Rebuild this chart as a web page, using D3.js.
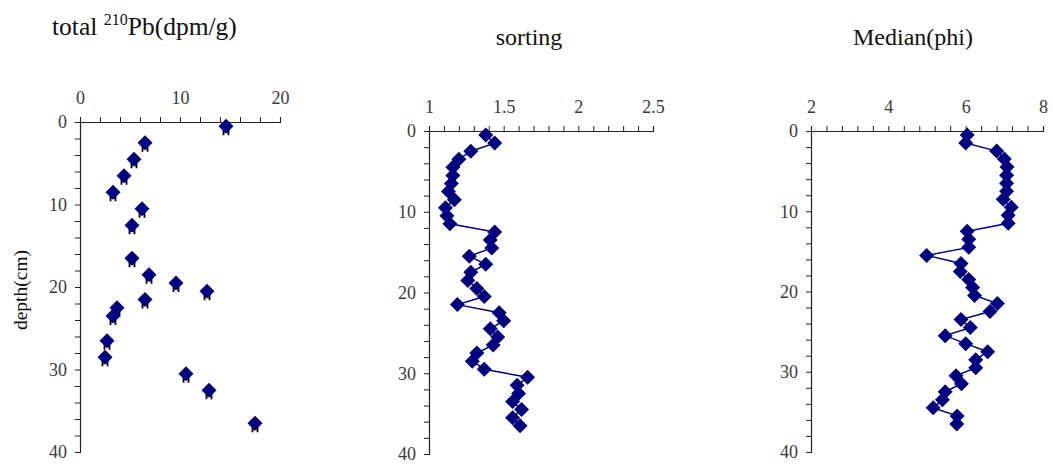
<!DOCTYPE html>
<html>
<head>
<meta charset="utf-8">
<script src="https://cdn.jsdelivr.net/npm/d3@7"></script>
<style>
  body { margin: 0; background: #fff; }
  svg text { font-family: "Liberation Serif", "Times New Roman", serif; }
</style>
</head>
<body>
<div id="chart"></div>
<script>
var width = 1053, height = 466,
    navy = "#000080",
    serif = "\"Liberation Serif\", \"Times New Roman\", serif";

// depths (cm) of each sample
var pbDepth = [0.5, 2.5, 4.5, 6.5, 8.5, 10.5, 12.5, 16.5, 18.5, 19.5, 20.5, 21.5, 22.5, 23.5, 26.5, 28.5, 30.5, 32.5, 36.5];
var pbValue = [14.6, 6.5, 5.4, 4.4, 3.3, 6.2, 5.2, 5.2, 6.9, 9.6, 12.7, 6.5, 3.7, 3.3, 2.7, 2.5, 10.6, 12.9, 17.5];

var grainDepth = [0.5, 1.5, 2.5, 3.5, 4.5, 5.5, 6.5, 7.5, 8.5, 9.5, 10.5, 11.5, 12.5, 13.5, 14.5, 15.5, 16.5, 17.5, 18.5,
                  19.5, 20.5, 21.5, 22.5, 23.5, 24.5, 25.5, 26.5, 27.5, 28.5, 29.5, 30.5, 31.5, 32.5, 33.5, 34.5, 35.5, 36.5];
var sorting = [1.38, 1.44, 1.28, 1.20, 1.16, 1.16, 1.15, 1.13, 1.17, 1.11, 1.12, 1.14, 1.44, 1.41, 1.42, 1.27, 1.38, 1.28, 1.26,
               1.32, 1.37, 1.19, 1.47, 1.50, 1.41, 1.46, 1.43, 1.32, 1.29, 1.37, 1.66, 1.59, 1.60, 1.56, 1.62, 1.56, 1.61];
var median = [6.04, 6.00, 6.80, 7.00, 7.07, 7.06, 7.06, 7.06, 6.97, 7.18, 7.10, 7.10, 6.04, 6.08, 6.08, 4.99, 5.88, 5.86, 6.08,
              6.18, 6.23, 6.82, 6.63, 5.88, 6.12, 5.47, 6.00, 6.57, 6.26, 6.26, 5.75, 5.89, 5.47, 5.40, 5.16, 5.78, 5.77];

var depthTicks = [0, 10, 20, 30, 40];

var svg = d3.select("#chart")
  .append("svg")
    .attr("width", width)
    .attr("height", height);

// one depth profile panel
function panel(opt) {
  var x = d3.scaleLinear().domain(opt.xDomain).range([opt.left, opt.right]);
  var y = d3.scaleLinear().domain([0, 40]).range([opt.top, opt.bottom]);

  var xMinor = d3.range(opt.xDomain[0], opt.xDomain[1] + opt.minor / 2, opt.minor);
  var yMinor = d3.range(0, 41, 2);

  var g = svg.append("g");

  var gx = g.append("g")
    .attr("transform", "translate(0," + opt.top + ")")
    .call(d3.axisTop(x)
      .tickValues(xMinor)
      .tickSize(5)
      .tickPadding(13)
      .tickFormat(function(d) {
        var hit = opt.xLabels.find(function(v) { return Math.abs(v - d) < 1e-6; });
        return hit === undefined ? "" : hit;
      }));

  var gy = g.append("g")
    .attr("transform", "translate(" + opt.left + ",0)")
    .call(d3.axisLeft(y)
      .tickValues(yMinor)
      .tickSize(5)
      .tickPadding(8)
      .tickFormat(function(d) { return depthTicks.indexOf(d) >= 0 ? d : ""; }));

  [gx, gy].forEach(function(a) {
    a.attr("font-family", null);
    a.select(".domain").attr("stroke", "#222").attr("stroke-width", 1.2);
    a.selectAll(".tick line").attr("stroke", "#222");
    a.selectAll(".tick text")
      .attr("fill", "#3a3a3a")
      .style("font-size", "18px")
      .style("font-family", serif);
  });

  var pts = opt.depth.map(function(d, i) { return [opt.values[i], d]; });

  if (opt.line) {
    g.append("path")
      .datum(pts)
      .attr("fill", "none")
      .attr("stroke", navy)
      .attr("stroke-width", 1.5)
      .attr("d", d3.line()
        .x(function(d) { return x(d[0]); })
        .y(function(d) { return y(d[1]); }));
  }

  if (opt.errors) {
    // small black error bars peeking out under each marker
    var eb = g.selectAll(".err").data(pts).enter().append("g")
      .attr("transform", function(d) { return "translate(" + x(d[0]) + "," + y(d[1]) + ")"; });
    eb.append("path")
      .attr("d", "M-2.5,2V9M2.5,2V9M-2.5,5.5H2.5")
      .attr("stroke", "#000")
      .attr("stroke-width", 1.8)
      .attr("fill", "none");
  }

  g.selectAll(".pt").data(pts).enter().append("path")
    .attr("transform", function(d) { return "translate(" + x(d[0]) + "," + y(d[1]) + ")"; })
    .attr("d", "M0,-7.5L7.5,0L0,7.5L-7.5,0Z")
    .attr("fill", navy);
}

panel({xDomain: [0, 20], xLabels: [0, 10, 20], minor: 2,
       left: 80, right: 280, top: 122, bottom: 452,
       depth: pbDepth, values: pbValue, line: false, errors: true});

panel({xDomain: [1, 2.5], xLabels: [1, 1.5, 2, 2.5], minor: 0.1,
       left: 429, right: 653, top: 131, bottom: 454,
       depth: grainDepth, values: sorting, line: true});

panel({xDomain: [2, 8], xLabels: [2, 4, 6, 8], minor: 0.4,
       left: 811, right: 1043, top: 131, bottom: 452,
       depth: grainDepth, values: median, line: true});

// titles
var t1 = svg.append("text")
  .attr("x", 52).attr("y", 35)
  .attr("fill", "#111")
  .style("font-family", serif)
  .style("font-size", "25.5px");
t1.append("tspan").text("total ");
t1.append("tspan").text("210").attr("dy", -10).style("font-size", "16px");
t1.append("tspan").text("Pb(dpm/g)").attr("dy", 10);

svg.append("text")
  .attr("x", 529).attr("y", 45)
  .attr("text-anchor", "middle")
  .attr("fill", "#111")
  .style("font-family", serif)
  .style("font-size", "24px")
  .text("sorting");

svg.append("text")
  .attr("x", 913).attr("y", 45)
  .attr("text-anchor", "middle")
  .attr("fill", "#111")
  .style("font-family", serif)
  .style("font-size", "24px")
  .text("Median(phi)");

svg.append("text")
  .attr("transform", "translate(27,290) rotate(-90)")
  .attr("text-anchor", "middle")
  .attr("fill", "#111")
  .style("font-family", serif)
  .style("font-size", "19.5px")
  .text("depth(cm)");
</script>
</body>
</html>
